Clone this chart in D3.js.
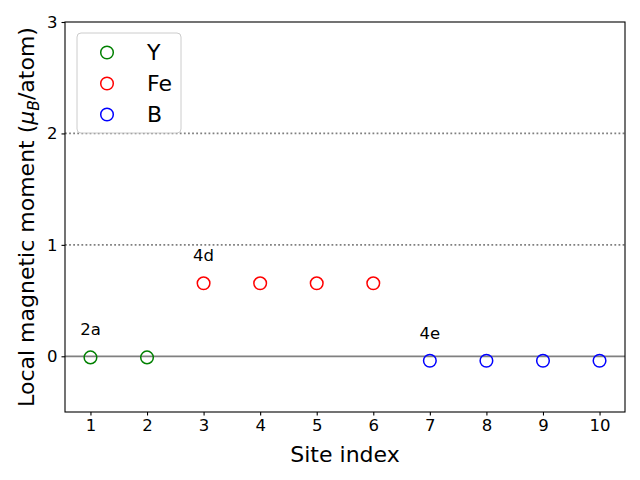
<!DOCTYPE html>
<html lang="en">
  <head>
    <meta charset="utf-8" />
    <title>Local magnetic moment</title>
    <style>
      body { margin: 0; background: #fff; }
      text { font-family: "DejaVu Sans", sans-serif; }
    </style>
  </head>
  <body>
    <script src="https://d3js.org/d3.v7.min.js"></script>
    <script>
      // data
      var ySites = [1, 2];
      var yMoments = [-0.01, -0.01];
      var feSites = [3, 4, 5, 6];
      var feMoments = [0.655, 0.655, 0.655, 0.655];
      var bSites = [7, 8, 9, 10];
      var bMoments = [-0.04, -0.04, -0.04, -0.04];
      var xTicks = [1, 2, 3, 4, 5, 6, 7, 8, 9, 10];
      var yTicks = [0, 1, 2, 3];
      var refLines = [1, 2];
      var siteLabels = [
        ["2a", 1, -0.01],
        ["4d", 3, 0.655],
        ["4e", 7, -0.04],
      ];

      var series = [
        { name: "Y", color: "green", x: ySites, y: yMoments },
        { name: "Fe", color: "red", x: feSites, y: feMoments },
        { name: "B", color: "blue", x: bSites, y: bMoments },
      ];

      var margin = { top: 22, right: 15, bottom: 68, left: 65 };
      var width = 640 - margin.left - margin.right,
        height = 480 - margin.top - margin.bottom;

      var x = d3.scaleLinear().domain([0.55, 10.45]).range([0, width]);
      var y = d3.scaleLinear().domain([-0.5, 3]).range([height, 0]);

      var svg = d3
        .select("body")
        .append("svg")
        .attr("width", 640)
        .attr("height", 480)
        .append("g")
        .attr("transform", "translate(" + margin.left + "," + margin.top + ")");

      // reference lines
      svg
        .selectAll(".dotline")
        .data(refLines)
        .enter()
        .append("line")
        .attr("x1", 0)
        .attr("x2", width)
        .attr("y1", function (d) { return y(d); })
        .attr("y2", function (d) { return y(d); })
        .attr("stroke", "#808080")
        .attr("stroke-width", 1.8)
        .attr("stroke-dasharray", "1.8,2.3");

      svg
        .append("line")
        .attr("x1", 0)
        .attr("x2", width)
        .attr("y1", y(0))
        .attr("y2", y(0))
        .attr("stroke", "#808080")
        .attr("stroke-width", 1.8);

      // points
      series.forEach(function (s) {
        svg
          .selectAll(".pt-" + s.name)
          .data(s.x)
          .enter()
          .append("circle")
          .attr("cx", function (d) { return x(d); })
          .attr("cy", function (d, i) { return y(s.y[i]); })
          .attr("r", 6.3)
          .attr("fill", "none")
          .attr("stroke", s.color)
          .attr("stroke-width", 1.5);
      });

      // site labels
      svg
        .selectAll(".site")
        .data(siteLabels)
        .enter()
        .append("text")
        .attr("x", function (d) { return x(d[1]); })
        .attr("y", function (d) { return y(d[2] + 0.25); })
        .attr("dy", "0.36em")
        .attr("text-anchor", "middle")
        .style("font-size", "16.5px")
        .text(function (d) { return d[0]; });

      // axes
      var xAxis = d3.axisBottom(x).tickValues(xTicks).tickSize(3.5).tickPadding(4).tickFormat(d3.format("d"));
      var yAxis = d3.axisLeft(y).tickValues(yTicks).tickSize(3.5).tickPadding(4).tickFormat(d3.format("d"));

      var gx = svg.append("g").attr("transform", "translate(0," + height + ")").call(xAxis);
      var gy = svg.append("g").call(yAxis);
      [gx, gy].forEach(function (g) {
        g.select(".domain").remove();
        g.selectAll("text").style("font-size", "16.5px").style("font-family", "DejaVu Sans").attr("fill", "#000");
        g.selectAll("line").attr("stroke", "#000").attr("stroke-width", 1.1);
      });

      svg
        .append("rect")
        .attr("width", width)
        .attr("height", height)
        .attr("fill", "none")
        .attr("stroke", "#000")
        .attr("stroke-width", 1.1);

      svg
        .append("text")
        .attr("x", width / 2)
        .attr("y", height + 50)
        .attr("text-anchor", "middle")
        .style("font-size", "22px")
        .text("Site index");

      var ylab = svg
        .append("text")
        .attr("transform", "translate(" + (26 - margin.left) + "," + height / 2 + ") rotate(-90)")
        .attr("dy", "0.36em")
        .attr("text-anchor", "middle")
        .style("font-size", "22px");
      ylab.append("tspan").text("Local magnetic moment (");
      ylab.append("tspan").style("font-style", "italic").text("\u03bc");
      ylab.append("tspan").style("font-style", "italic").style("font-size", "15.5px").attr("dy", "0.3em").text("B");
      ylab.append("tspan").attr("dy", "-0.2em").text("/atom)");

      // legend
      var legend = svg.append("g").attr("transform", "translate(" + (77 - margin.left) + "," + (33 - margin.top) + ")");
      legend
        .append("rect")
        .attr("width", 104)
        .attr("height", 100)
        .attr("rx", 4)
        .attr("fill", "#fff")
        .attr("fill-opacity", 0.8)
        .attr("stroke", "#cccccc")
        .attr("stroke-width", 1);

      var items = legend
        .selectAll(".item")
        .data(series)
        .enter()
        .append("g")
        .attr("transform", function (d, i) { return "translate(0," + (19.5 + i * 31) + ")"; });
      items
        .append("circle")
        .attr("cx", 30)
        .attr("r", 6.3)
        .attr("fill", "none")
        .attr("stroke", function (d) { return d.color; })
        .attr("stroke-width", 1.5);
      items
        .append("text")
        .attr("x", 70)
        .attr("dy", "0.36em")
        .style("font-size", "22px")
        .text(function (d) { return d.name; });
    </script>
  </body>
</html>
